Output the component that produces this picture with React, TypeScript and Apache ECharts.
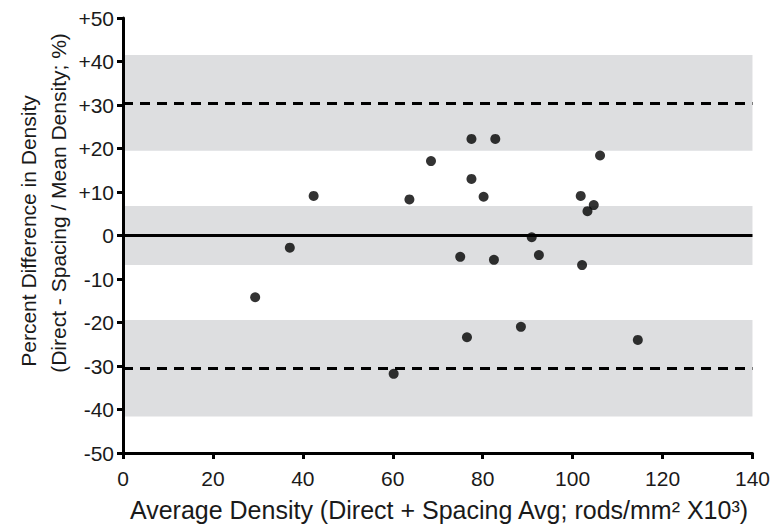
import React, { useEffect, useRef } from "react";
import * as echarts from "echarts";

const avgDensity = [29.4, 37.1, 42.4, 63.7, 60.2, 68.5, 75.0, 76.5, 77.5, 77.5, 80.2, 82.8, 82.5, 88.5, 90.9, 92.5, 101.8, 102.1, 103.3, 104.7, 106.1, 114.5];
const pctDiff = [-14.2, -2.8, 9.1, 8.3, -31.8, 17.1, -4.9, -23.4, 22.2, 13.0, 8.9, 22.2, -5.6, -21.0, -0.4, -4.5, 9.1, -6.8, 5.6, 7.0, 18.4, -24.0];

const meanDiff = 0;
const limitsOfAgreement = [30.5, -30.5];
const bandRanges = [
  [19.5, 41.5],
  [-6.8, 6.8],
  [-41.6, -19.4],
];
const yTicks = [-50, -40, -30, -20, -10, 0, 10, 20, 30, 40, 50];
const xRange = [0, 140];

const FONT = "'Liberation Sans', Arial, sans-serif";

export default function App() {
  const ref = useRef<HTMLDivElement>(null);
  useEffect(() => {
    document.body.style.margin = "0";
    if (!ref.current) return;
    const chart = echarts.init(ref.current, null, { renderer: "svg" });
    const points = avgDensity.map((x, i) => [x, pctDiff[i]]);
    chart.setOption({
      animation: false,
      backgroundColor: "#ffffff",
      grid: { left: 123, right: 19, top: 18, bottom: 74, containLabel: false },
      xAxis: {
        type: "value",
        min: xRange[0],
        max: xRange[1],
        interval: 20,
        z: 10,
        splitLine: { show: false },
        axisLine: { show: true, onZero: false, lineStyle: { color: "#000", width: 3 } },
        axisTick: { show: true, length: 6, lineStyle: { color: "#000", width: 3 } },
        axisLabel: { color: "#1a1a1a", fontSize: 21, fontFamily: FONT, margin: 15 },
      },
      yAxis: {
        type: "value",
        min: yTicks[0],
        max: yTicks[yTicks.length - 1],
        interval: 10,
        z: 10,
        splitLine: { show: false },
        axisLine: { show: true, onZero: false, lineStyle: { color: "#000", width: 3 } },
        axisTick: { show: true, length: 6, lineStyle: { color: "#000", width: 3 } },
        axisLabel: {
          color: "#1a1a1a",
          fontSize: 21,
          fontFamily: FONT,
          margin: 9,
          formatter: (v: number) => (v > 0 ? "+" + v : String(v)),
        },
      },
      series: [
        {
          type: "line",
          data: [],
          z: 1,
          silent: true,
          markArea: {
            silent: true,
            itemStyle: { color: "#dddee0" },
            data: bandRanges.map((r) => [{ yAxis: r[0] }, { yAxis: r[1] }]),
          },
          markLine: {
            silent: true,
            symbol: "none",
            label: { show: false },
            data: [
              { yAxis: meanDiff, lineStyle: { color: "#000", width: 3, type: "solid" } },
              ...limitsOfAgreement.map((v) => ({
                yAxis: v,
                lineStyle: { color: "#000", width: 3, type: [10, 7] },
              })),
            ],
          },
        },
        {
          type: "scatter",
          z: 5,
          data: points,
          symbol: "circle",
          symbolSize: 10,
          itemStyle: { color: "#000" },
        },
      ],
      graphic: [
        {
          type: "text",
          x: 28,
          y: 231,
          rotation: Math.PI / 2,
          style: {
            text: "Percent Difference in Density",
            fontSize: 21,
            fontFamily: FONT,
            fill: "#1a1a1a",
            textAlign: "center",
            textVerticalAlign: "middle",
          },
        },
        {
          type: "text",
          x: 58,
          y: 203,
          rotation: Math.PI / 2,
          style: {
            text: "(Direct - Spacing / Mean Density; %)",
            fontSize: 21,
            fontFamily: FONT,
            fill: "#1a1a1a",
            textAlign: "center",
            textVerticalAlign: "middle",
          },
        },
        {
          type: "text",
          x: 439,
          y: 510,
          style: {
            text: "Average Density (Direct + Spacing Avg; rods/mm² X10³)",
            fontSize: 25,
            fontFamily: FONT,
            fill: "#1a1a1a",
            textAlign: "center",
            textVerticalAlign: "middle",
          },
        },
      ],
    });
    return () => chart.dispose();
  }, []);
  return <div ref={ref} style={{ width: 773, height: 527 }} />;
}
